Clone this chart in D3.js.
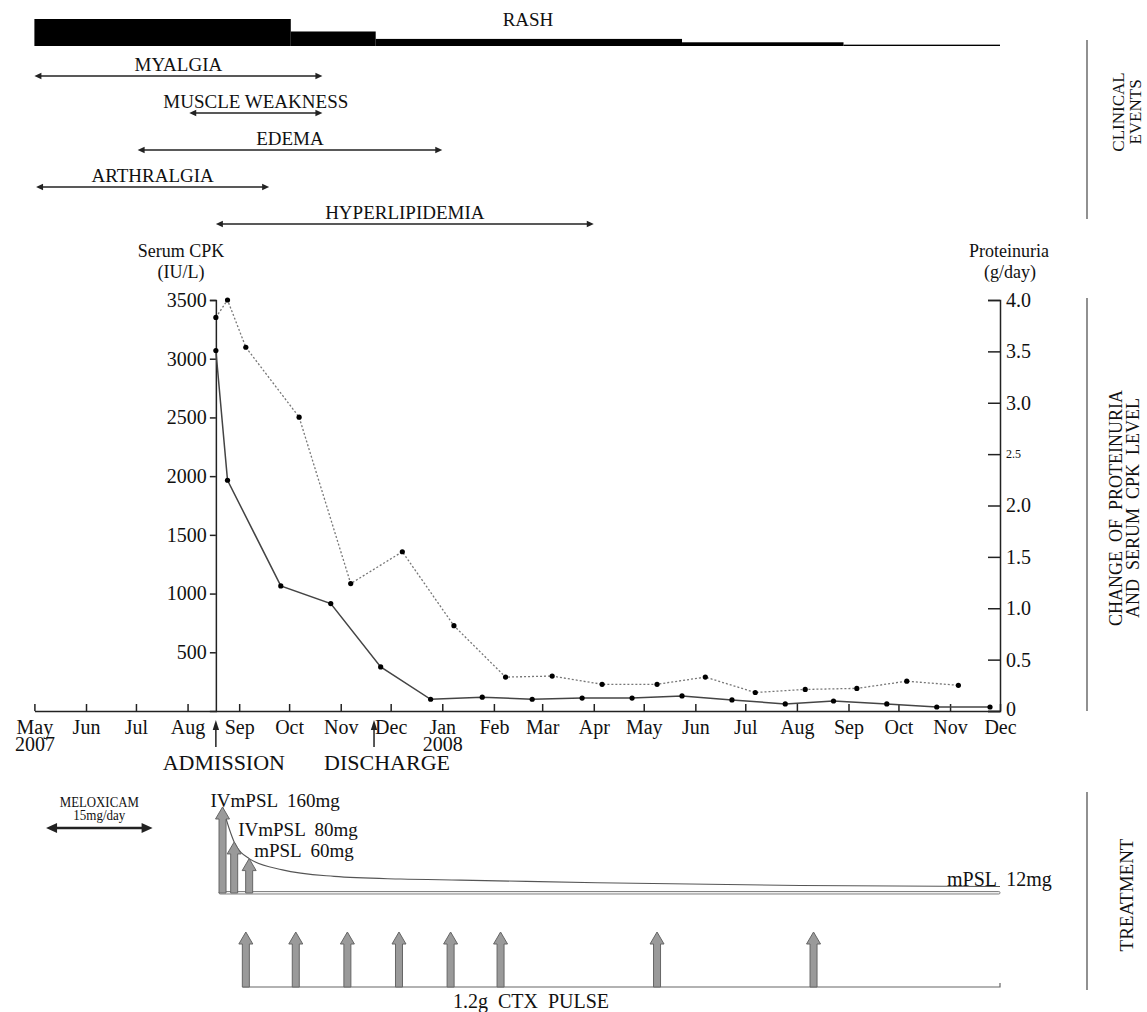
<!DOCTYPE html>
<html>
<head>
<meta charset="utf-8">
<script src="https://cdn.jsdelivr.net/npm/d3@7"></script>
<style>
    body { margin: 0; background: #fff; }
    svg { display: block; font-family: "Liberation Serif", "Times New Roman", serif; }
    text { fill: #111; }
</style>
</head>
<body>
<svg id="chart" width="1147" height="1012"></svg>
<script>
var parseDate = d3.timeParse("%Y-%m-%d");

// clinical events
var rashStarts = ["2007-05-01", "2007-10-02", "2007-11-22", "2008-05-24", "2008-08-29"],
    rashEnds = ["2007-10-02", "2007-11-22", "2008-05-24", "2008-08-29", "2008-12-01"],
    rashLevels = [4, 2.15, 1.05, 0.55, 0.2];

var eventNames = ["MYALGIA", "MUSCLE WEAKNESS", "EDEMA", "ARTHRALGIA", "HYPERLIPIDEMIA"],
    eventStarts = ["2007-05-01", "2007-08-02", "2007-07-02", "2007-05-02", "2007-08-18"],
    eventEnds = ["2007-10-21", "2007-10-21", "2008-01-01", "2007-09-19", "2008-04-01"];

var admissionDate = "2007-08-18",
    dischargeDate = "2007-11-21";

// serum CPK (IU/L), solid line
var cpkDates = ["2007-08-18", "2007-08-25", "2007-09-26", "2007-10-26", "2007-11-25", "2007-12-25",
    "2008-01-25", "2008-02-24", "2008-03-25", "2008-04-24", "2008-05-24", "2008-06-23",
    "2008-07-25", "2008-08-23", "2008-09-24", "2008-10-24", "2008-11-25"];
var cpkValues = [3070, 1965, 1065, 915, 375, 100, 118, 100, 110, 110, 128, 94, 60, 85, 60, 34, 34];

// proteinuria (g/day), dotted line
var protDates = ["2007-08-18", "2007-08-25", "2007-09-05", "2007-10-07", "2007-11-07", "2007-12-08",
    "2008-01-08", "2008-02-08", "2008-03-07", "2008-04-06", "2008-05-09", "2008-06-07",
    "2008-07-07", "2008-08-06", "2008-09-06", "2008-10-06", "2008-11-06"];
var protValues = [3.83, 4.0, 3.54, 2.86, 1.24, 1.55, 0.83, 0.33, 0.34, 0.26, 0.26, 0.33, 0.18, 0.21, 0.22, 0.29, 0.25];

var cpkTicks = [500, 1000, 1500, 2000, 2500, 3000, 3500],
    protTicks = [0, 0.5, 1.0, 1.5, 2.0, 2.5, 3.0, 3.5, 4.0];

// treatment
var meloxicamPeriod = ["2007-05-08", "2007-07-11"];

var pulseDates = ["2007-08-22", "2007-08-29", "2007-09-07"],
    pulseLabels = ["IVmPSL  160mg", "IVmPSL  80mg", "mPSL  60mg"];

var taperDates = ["2007-08-22", "2007-08-29", "2007-09-07", "2007-09-27", "2007-10-28", "2007-12-07",
    "2008-01-12", "2008-04-03", "2008-08-03", "2008-12-01"];
var taperDoses = [160, 95, 64, 43, 31, 26, 24, 19, 14, 12];

var ctxDates = ["2007-09-05", "2007-10-05", "2007-11-05", "2007-12-06", "2008-01-06", "2008-02-05",
    "2008-05-09", "2008-08-11"],
    ctxStart = "2007-09-03";

var svg = d3.select("#chart");

var x = d3.scaleTime()
    .domain([parseDate("2007-05-01"), parseDate("2008-12-01")])
    .range([34.4, 1000]);
var yCpk = d3.scaleLinear().domain([0, 3500]).range([711, 300]);
var yProt = d3.scaleLinear().domain([0, 4]).range([711, 300]);
var rashH = d3.scaleLinear().domain([0, 4]).range([0, 27]);
var eventRow = d3.scalePoint().domain(eventNames).range([76, 224]);
var doseY = d3.scaleLinear().domain([0, 160]).range([893, 807]);
var taperAt = d3.scaleTime().domain(taperDates.map(parseDate)).range(taperDoses);

var xAt = function xAt(s) {
    return x(parseDate(s));
};

var doubleArrow = function doubleArrow(g, x1, x2, y, len, half, width) {
    g.append("line")
        .attr("x1", x1 + len - 1).attr("x2", x2 - len + 1)
        .attr("y1", y).attr("y2", y)
        .attr("stroke", "#222").attr("stroke-width", width);
    g.append("path")
        .attr("d", "M" + x1 + "," + y + "L" + (x1 + len) + "," + (y - half) + "L" + (x1 + len) + "," + (y + half) + "Z" +
            "M" + x2 + "," + y + "L" + (x2 - len) + "," + (y - half) + "L" + (x2 - len) + "," + (y + half) + "Z")
        .attr("fill", "#222");
};

var fatArrow = function fatArrow(cx, yBase, yTip) {
    var s = 3.5, h = 7, hl = 12;
    return "M" + (cx - s) + "," + yBase + "L" + (cx - s) + "," + (yTip + hl) + "L" + (cx - h) + "," + (yTip + hl) +
        "L" + cx + "," + yTip + "L" + (cx + h) + "," + (yTip + hl) + "L" + (cx + s) + "," + (yTip + hl) +
        "L" + (cx + s) + "," + yBase + "Z";
};

// ---- rash ----
var rash = svg.append("g");
rash.selectAll("rect")
    .data(rashLevels)
    .enter().append("rect")
    .attr("x", function (d, i) { return xAt(rashStarts[i]); })
    .attr("width", function (d, i) { return xAt(rashEnds[i]) - xAt(rashStarts[i]); })
    .attr("y", function (d) { return 46 - rashH(d); })
    .attr("height", function (d) { return rashH(d); })
    .attr("fill", "#000");
rash.append("text")
    .attr("x", 528).attr("y", 26)
    .attr("text-anchor", "middle").attr("font-size", 19)
    .text("RASH");

// ---- clinical events ----
var events = svg.append("g");
eventNames.forEach(function (name, i) {
    var x1 = xAt(eventStarts[i]), x2 = xAt(eventEnds[i]), y = eventRow(name);
    doubleArrow(events, x1, x2, y, 7, 3.2, 1.5);
    events.append("text")
        .attr("x", (x1 + x2) / 2).attr("y", y - 5)
        .attr("text-anchor", "middle").attr("font-size", 19)
        .text(name);
});

// ---- axes ----
var xAxis = svg.append("g")
    .attr("transform", "translate(0,711)")
    .call(d3.axisBottom(x)
        .ticks(d3.timeMonth.every(1))
        .tickSize(-7).tickSizeOuter(0).tickPadding(9)
        .tickFormat(d3.timeFormat("%b")));
xAxis.selectAll("text").each(function (d) {
    if (d.getMonth() === 0 || (d.getMonth() === 4 && d.getFullYear() === 2007)) {
        d3.select(this).append("tspan").attr("x", 0).attr("dy", "0.82em").text(d.getFullYear());
    }
});

var leftAxis = svg.append("g")
    .attr("transform", "translate(" + xAt(admissionDate) + ",0)")
    .call(d3.axisLeft(yCpk).tickValues(cpkTicks).tickSize(6).tickPadding(3).tickFormat(d3.format("d")));

var rightAxis = svg.append("g")
    .attr("transform", "translate(1000,0)")
    .call(d3.axisRight(yProt).tickValues(protTicks).tickSize(-12).tickPadding(6)
        .tickFormat(function (d) { return d === 0 ? "0" : d3.format(".1f")(d); }));

[xAxis, leftAxis, rightAxis].forEach(function (a) {
    a.attr("font-family", null).attr("font-size", 20);
    a.selectAll("path, line").attr("stroke", "#222").attr("stroke-width", 1.5);
    a.selectAll("text").attr("fill", "#111");
});
rightAxis.selectAll("text").filter(function (d) { return d === 2.5; }).attr("font-size", 12);
rightAxis.selectAll("text").filter(function (d) { return d === 0; }).attr("dy", "0.2em");

svg.append("text").attr("x", 181).attr("y", 257).attr("text-anchor", "middle").attr("font-size", 18).text("Serum CPK");
svg.append("text").attr("x", 181).attr("y", 278).attr("text-anchor", "middle").attr("font-size", 18).text("(IU/L)");
svg.append("text").attr("x", 1009).attr("y", 257).attr("text-anchor", "middle").attr("font-size", 18).text("Proteinuria");
svg.append("text").attr("x", 1010).attr("y", 278).attr("text-anchor", "middle").attr("font-size", 18).text("(g/day)");

// ---- series ----
var cpk = cpkDates.map(function (d, i) { return { date: parseDate(d), v: cpkValues[i] }; });
var prot = protDates.map(function (d, i) { return { date: parseDate(d), v: protValues[i] }; });

svg.append("path")
    .datum(prot)
    .attr("fill", "none").attr("stroke", "#777").attr("stroke-width", 1.3).attr("stroke-dasharray", "2,2")
    .attr("d", d3.line().x(function (d) { return x(d.date); }).y(function (d) { return yProt(d.v); }));
svg.append("path")
    .datum(cpk)
    .attr("fill", "none").attr("stroke", "#444").attr("stroke-width", 1.5)
    .attr("d", d3.line().x(function (d) { return x(d.date); }).y(function (d) { return yCpk(d.v); }));

svg.append("g").selectAll("circle")
    .data(prot).enter().append("circle")
    .attr("cx", function (d) { return x(d.date); })
    .attr("cy", function (d) { return yProt(d.v); })
    .attr("r", 2.6).attr("fill", "#000");
svg.append("g").selectAll("circle")
    .data(cpk).enter().append("circle")
    .attr("cx", function (d) { return x(d.date); })
    .attr("cy", function (d) { return yCpk(d.v); })
    .attr("r", 2.6).attr("fill", "#000");

// admission / discharge markers
[[admissionDate, "ADMISSION", 8], [dischargeDate, "DISCHARGE", 13]].forEach(function (m) {
    var mx = xAt(m[0]);
    svg.append("line").attr("x1", mx).attr("x2", mx).attr("y1", 747).attr("y2", 726)
        .attr("stroke", "#222").attr("stroke-width", 1.5);
    svg.append("path").attr("d", "M" + (mx - 3.2) + ",730L" + mx + ",720L" + (mx + 3.2) + ",730Z").attr("fill", "#222");
    svg.append("text").attr("x", mx + m[2]).attr("y", 770).attr("text-anchor", "middle").attr("font-size", 22).text(m[1]);
});

// ---- treatment ----
var treat = svg.append("g");
var mx1 = xAt(meloxicamPeriod[0]), mx2 = xAt(meloxicamPeriod[1]);
doubleArrow(treat, mx1, mx2, 828, 11, 5, 2.5);
treat.append("text").attr("x", (mx1 + mx2) / 2).attr("y", 807).attr("text-anchor", "middle")
    .attr("font-size", 15).attr("textLength", 79).attr("lengthAdjust", "spacingAndGlyphs").text("MELOXICAM");
treat.append("text").attr("x", (mx1 + mx2) / 2).attr("y", 820).attr("text-anchor", "middle")
    .attr("font-size", 14).attr("textLength", 52).attr("lengthAdjust", "spacingAndGlyphs").text("15mg/day");

// steroid baseline and taper curve
var baseStart = xAt(pulseDates[0]) - 3.5, baseEnd = xAt(taperDates[taperDates.length - 1]);
treat.append("rect")
    .attr("x", baseStart).attr("y", 891.5).attr("width", baseEnd - baseStart).attr("height", 2.5).attr("rx", 1.2)
    .attr("fill", "#eee").attr("stroke", "#777").attr("stroke-width", 0.9);

var taper = taperDates.map(function (d, i) { return { date: parseDate(d), v: taperDoses[i] }; });
treat.append("path")
    .datum(taper)
    .attr("fill", "none").attr("stroke", "#555").attr("stroke-width", 1.1)
    .attr("d", d3.line().curve(d3.curveMonotoneX)
        .x(function (d) { return x(d.date); })
        .y(function (d) { return doseY(d.v); }));

var labelOffsets = [[-12, 0], [4, -6], [5, -2]];
pulseDates.forEach(function (d, i) {
    var px = xAt(d), tip = doseY(taperAt(parseDate(d)));
    treat.append("path").attr("d", fatArrow(px, 893, tip))
        .attr("fill", "#9a9a9a").attr("stroke", "#666").attr("stroke-width", 1);
    treat.append("text")
        .attr("x", px + labelOffsets[i][0]).attr("y", tip + labelOffsets[i][1])
        .attr("font-size", 19).style("white-space", "pre")
        .text(pulseLabels[i]);
});
treat.append("text").attr("x", baseEnd - 53).attr("y", 886).attr("font-size", 20)
    .style("white-space", "pre").text("mPSL  12mg");

// CTX pulses
treat.append("path")
    .attr("d", "M" + xAt(ctxStart) + ",987H" + baseEnd + "V983")
    .attr("fill", "none").attr("stroke", "#666").attr("stroke-width", 1.2);
treat.selectAll(".ctx")
    .data(ctxDates).enter().append("path")
    .attr("class", "ctx")
    .attr("d", function (d) { return fatArrow(xAt(d), 987, 932); })
    .attr("fill", "#9a9a9a").attr("stroke", "#666").attr("stroke-width", 1);
treat.append("text").attr("x", 531).attr("y", 1008).attr("text-anchor", "middle").attr("font-size", 20)
    .style("white-space", "pre").text("1.2g  CTX  PULSE");

// ---- side section labels ----
var sections = [
    { y1: 40, y2: 219, lines: ["CLINICAL", "EVENTS"], base: [1124, 1141], fs: 17, cy: 112 },
    { y1: 298, y2: 711, lines: ["CHANGE  OF  PROTEINURIA", "AND  SERUM  CPK  LEVEL"], base: [1122, 1139], fs: 18, cy: 508 },
    { y1: 792, y2: 990, lines: ["TREATMENT"], base: [1133], fs: 19, cy: 895 }
];
sections.forEach(function (s) {
    svg.append("line").attr("x1", 1087).attr("x2", 1087).attr("y1", s.y1).attr("y2", s.y2)
        .attr("stroke", "#555").attr("stroke-width", 1.3);
    s.lines.forEach(function (t, i) {
        svg.append("text")
            .attr("transform", "translate(" + s.base[i] + "," + s.cy + ") rotate(-90)")
            .attr("text-anchor", "middle").attr("font-size", s.fs)
            .style("white-space", "pre")
            .text(t);
    });
});
</script>
</body>
</html>
